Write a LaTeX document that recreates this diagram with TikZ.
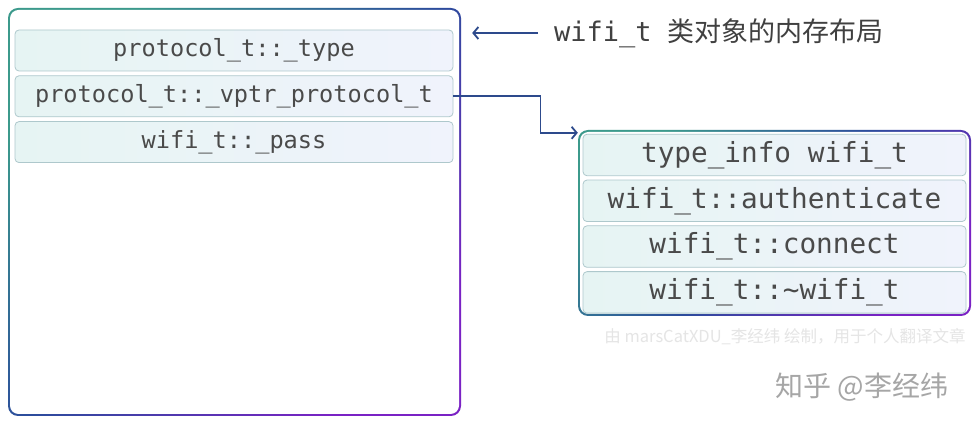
\documentclass[tikz,border=0pt]{standalone}
\usepackage{fontspec}
\setmainfont{DejaVu Sans}
\setmonofont{DejaVu Sans Mono}
\newfontfamily\cjk{Noto Sans CJK SC}
\usetikzlibrary{arrows.meta,positioning}
\definecolor{linkblue}{HTML}{2D4A8C}
\definecolor{frameteal}{HTML}{3C9A8C}
\definecolor{frameblue}{HTML}{2C4C9C}
\definecolor{framepurple}{HTML}{7A22C4}
\definecolor{cellleft}{HTML}{E6F4F3}
\definecolor{cellright}{HTML}{F0F3FC}
\definecolor{cellline}{HTML}{AEC8CC}
\definecolor{celltext}{HTML}{4A4A4A}

\begin{document}
\begin{tikzpicture}[
    x=1pt, y=-1pt,
    outerbox/.style={rounded corners=10pt, top color=frameteal, bottom color=framepurple, middle color=frameblue, shading angle=45, inner sep=0},
    innerbox/.style={fill=white, rounded corners=8.5pt, inner sep=0},
    cell/.style={draw=cellline, line width=0.8pt, rounded corners=4pt, left color=cellleft, right color=cellright, inner sep=0, text=celltext},
    objcell/.style={cell, minimum width=438pt, minimum height=41pt, font=\ttfamily\fontsize{23.6}{24}\selectfont},
    vcell/.style={cell, minimum width=383pt, minimum height=41.5pt, font=\ttfamily\fontsize{27.7}{28}\selectfont},
    ptr/.style={draw=linkblue, line width=1.8pt, -{Straight Barb[length=5pt, width=12pt]}}
]
\fill[white] (0,0) rectangle (978,427);
\useasboundingbox (0,0) rectangle (978,427);

% wifi_t object
\node[outerbox, minimum width=453pt, minimum height=408pt] (objbox) at (234.5,212) {};
\node[innerbox, minimum width=449pt, minimum height=404pt] (objhole) at (objbox.center) {};
\node[objcell] (objtype) at (234,50.5) {protocol\_t::\_type};
\node[objcell, below=4pt of objtype] (objvptr) {protocol\_t::\_vptr\_protocol\_t};
\node[objcell, below=4pt of objvptr] (objpass) {wifi\_t::\_pass};

% vtable
\node[outerbox, minimum width=393pt, minimum height=186pt] (vtbl) at (774.5,223) {};
\node[innerbox, minimum width=389pt, minimum height=182pt] (vtblhole) at (vtbl.center) {};
\node[vcell] (vtype) at (774.5,155) {type\_info wifi\_t};
\node[vcell, below=3.5pt of vtype] (vauth) {wifi\_t::authenticate};
\node[vcell, below=3.5pt of vauth] (vconn) {wifi\_t::connect};
\node[vcell, below=3.5pt of vconn] (vdtor) {wifi\_t::\textasciitilde wifi\_t};

% Title
\node[anchor=west, inner xsep=16pt, inner ysep=0, text=black!75, font=\ttfamily\fontsize{27}{28}\selectfont] (title) at (538,33) {wifi\_t {\cjk 类对象的内存布局}};

% Watermarks
\node[text=black!10, font=\cjk\fontsize{16.5}{17}\selectfont] (credit) at (785,337) {由 marsCatXDU\_李经纬 绘制，用于个人翻译文章};
\node[text=black!35, font=\cjk\fontsize{28}{28}\selectfont] (zhihu) at (862,387) {知乎 @李经纬};

% Connections
\draw[ptr, shorten >=11pt] (title.west) -- (title.west -| objbox.east);
\draw[ptr] (objvptr.east) -- ++(87,0) |- ([yshift=-3pt]vtbl.north west);

\end{tikzpicture}
\end{document}
